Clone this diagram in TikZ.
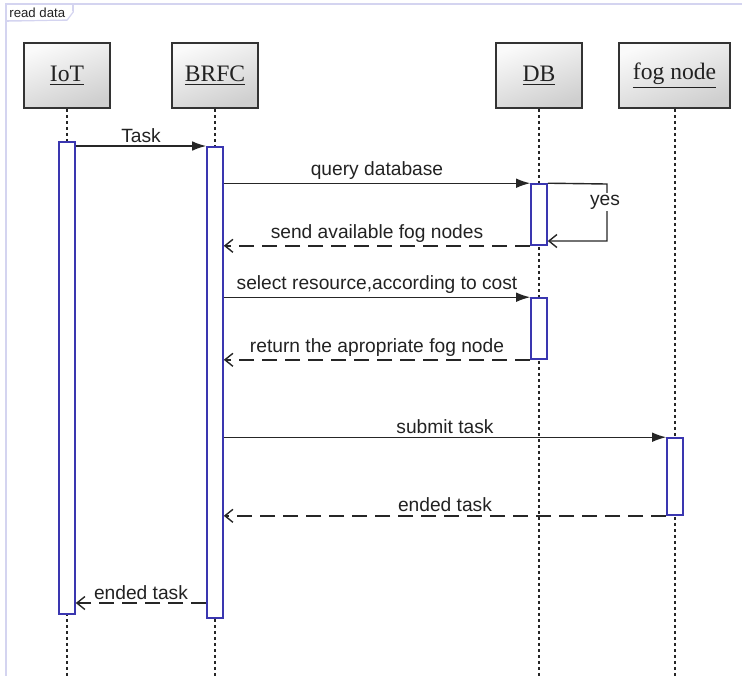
\documentclass[tikz,border=0pt]{standalone}
\usepackage{fontspec}
\setmainfont{Liberation Sans}
\newfontfamily\headfont{Liberation Serif}
\usetikzlibrary{arrows.meta}
\definecolor{framec}{HTML}{D4D4F0}
\definecolor{barc}{HTML}{3A36B0}
\definecolor{txt}{HTML}{222222}
\tikzset{
  head/.style={draw=black!80, line width=0.8pt, minimum width=43pt, minimum height=32.5pt,
    top color=gray!4, bottom color=gray!38, shading angle=20, font=\headfont\fontsize{11.8}{13}\selectfont, text=txt, inner sep=0pt},
  lifeline/.style={line width=0.8pt, dash pattern=on 1.5pt off 1.5pt, black!85},
  actbar/.style={draw=barc, line width=0.8pt, fill=white, minimum width=8pt, inner sep=0pt},
  sync/.style={line width=0.7pt, black!85, -{Latex[length=7pt,width=4.8pt]}},
  reply/.style={line width=0.7pt, black!85, dash pattern=on 7.5pt off 4pt, -{Straight Barb[length=4pt,width=6.5pt]}},
  lbl/.style={font=\fontsize{9.6}{11}\selectfont, text=txt, inner sep=1.5pt},
}
\begin{document}
\begin{tikzpicture}[x=0.5pt,y=-0.5pt]
\useasboundingbox (0,0) rectangle (742,676);
% frame
\draw[framec, line width=0.8pt] (742,4) -- (6,4) -- (6,676);
\node[draw=framec, line width=0.6pt, fill=white, anchor=north west, inner sep=0pt, minimum width=33pt, minimum height=8pt] (tab) at (6,4) {};
\fill[white] (tab.north east) ++(-3pt,-8.5pt) rectangle ++(4pt,5pt);
\draw[framec, line width=0.6pt] (tab.north east) -- ++(0,-4pt) -- ++(-3pt,-4pt) -- (tab.south west);
\node[font=\fontsize{6.6}{8}\selectfont, text=txt, anchor=west, inner sep=0pt] (tabtext) at (9,12.5) {read data};
% heads
\node[head] (iot) at (67,75.5) {\underline{IoT}};
\node[head] (brfc) at (215,75.5) {\underline{BRFC}};
\node[head] (db) at (539,75.5) {\underline{DB}};
\node[head, minimum width=55.5pt] (fog) at (674.5,75.5) {\underline{fog node}};
% lifelines
\coordinate (iotend) at (67,676);
\coordinate (brfcend) at (215,676);
\coordinate (dbend) at (539,676);
\coordinate (fogend) at (675,676);
\draw[lifeline] (iot.south) -- (iotend);
\draw[lifeline] (brfc.south) -- (brfcend);
\draw[lifeline] (db.south) -- (dbend);
\draw[lifeline] (fog.south -| fogend) -- (fogend);
% activation bars
\node[actbar, minimum height=236pt] (iotbar) at (67,378) {};
\node[actbar, minimum height=235.5pt] (brfcbar) at (215,382.5) {};
\node[actbar, minimum height=30.5pt] (dbbar1) at (539,214.5) {};
\node[actbar, minimum height=30.5pt] (dbbar2) at (539,328.5) {};
\node[actbar, minimum height=38.5pt] (fogbar) at (675,476.5) {};
% messages
\draw[sync] (iotbar.east |- 0,146) -- node[lbl, above] {Task} (brfcbar.west |- 0,146);
\draw[sync] (brfcbar.east |- dbbar1.north) -- node[lbl, above] {query database} (dbbar1.north west);
\coordinate (loopa) at (607,184);
\coordinate (loopb) at (607,241);
\draw[line width=0.7pt, black!85, -{Straight Barb[length=4pt,width=6.5pt]}] (dbbar1.north east) -- (loopa) -- (loopb) -- (dbbar1.east |- loopb);
\node[lbl, fill=white, inner sep=1pt] (yes) at (605,202) {yes};
\draw[reply] (dbbar1.south west) -- node[lbl, above] {send available fog nodes} (brfcbar.east |- dbbar1.south);
\draw[sync] (brfcbar.east |- dbbar2.north) -- node[lbl, above] {select resource,according to cost} (dbbar2.north west);
\draw[reply] (dbbar2.south west) -- node[lbl, above] {return the apropriate fog node} (brfcbar.east |- dbbar2.south);
\draw[sync] (brfcbar.east |- fogbar.north) -- node[lbl, above] {submit task} (fogbar.north west);
\draw[reply] (fogbar.south west) -- node[lbl, above] {ended task} (brfcbar.east |- fogbar.south);
\draw[reply] (brfcbar.west |- 0,603) -- node[lbl, above] {ended task} (iotbar.east |- 0,603);
\end{tikzpicture}
\end{document}
